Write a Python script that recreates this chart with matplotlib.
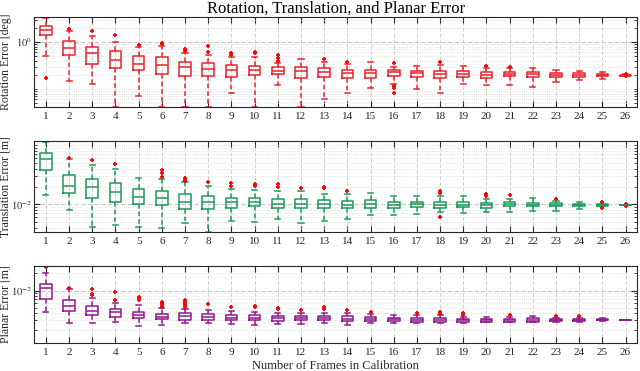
import numpy as np
import matplotlib
matplotlib.use("Agg")
import matplotlib.pyplot as plt
from matplotlib.ticker import LogLocator, NullFormatter, FixedLocator

plt.rcParams['font.family'] = ['Liberation Serif', 'DejaVu Serif']
plt.rcParams['mathtext.fontset'] = 'stix'

frames = list(range(1, 27))

# Rotation error [deg]
rot_whislo = [0.51, 0.150, 0.126, 0.042, 0.071, 0.042, 0.042, 0.042, 0.084, 0.042, 0.122, 0.042, 0.060,
              0.081, 0.107, 0.128, 0.098, 0.081, 0.128, 0.122, 0.122, 0.109, 0.143, 0.155, 0.166, 0.192]
rot_q1 = [1.39, 0.52, 0.34, 0.28, 0.254, 0.209, 0.189, 0.192, 0.18, 0.195, 0.209, 0.174, 0.177,
          0.174, 0.169, 0.189, 0.177, 0.169, 0.177, 0.174, 0.189, 0.177, 0.177, 0.183, 0.187, 0.193]
rot_med = [1.80, 0.73, 0.59, 0.41, 0.335, 0.33, 0.29, 0.262, 0.254, 0.254, 0.245, 0.241, 0.233,
           0.216, 0.216, 0.23, 0.216, 0.209, 0.212, 0.2, 0.212, 0.205, 0.198, 0.198, 0.198, 0.198]
rot_q3 = [2.19, 1.05, 0.79, 0.64, 0.50, 0.47, 0.38, 0.35, 0.33, 0.313, 0.29, 0.29, 0.275,
          0.254, 0.254, 0.254, 0.241, 0.245, 0.245, 0.23, 0.233, 0.233, 0.222, 0.216, 0.212, 0.203]
rot_whishi = [3.19, 1.74, 1.36, 1.0, 0.79, 0.82, 0.59, 0.53, 0.49, 0.47, 0.36, 0.44, 0.38,
              0.34, 0.37, 0.30, 0.313, 0.324, 0.308, 0.284, 0.275, 0.275, 0.254, 0.238, 0.23, 0.205]
rot_out = [[0.169], [1.89], [1.71], [1.43], [0.88, 0.85], [0.94, 0.89], [0.70, 0.64], [0.83, 0.60],
           [0.575, 0.53], [0.60, 0.575], [0.52, 0.45, 0.39], [], [0.435], [0.375], [],
           [0.35, 0.116, 0.104, 0.081], [], [0.375], [], [0.313], [0.29], [], [], [], [], [0.209, 0.189]]

# Translation error [m]
tra_whislo = [0.0145, 0.0081, 0.0042, 0.0045, 0.0042, 0.00395, 0.0048, 0.0034, 0.0053, 0.0051, 0.0056, 0.0048, 0.0052,
              0.0056, 0.00664, 0.0065, 0.0068, 0.0074, 0.0070, 0.0074, 0.0073, 0.0076, 0.0078, 0.0083, 0.0093, 0.0097]
tra_q1 = [0.0385, 0.0157, 0.0127, 0.0109, 0.0102, 0.0098, 0.0084, 0.0084, 0.00863, 0.0092, 0.0088, 0.0086, 0.0086,
          0.0086, 0.0088, 0.0088, 0.0090, 0.0088, 0.0090, 0.0088, 0.0093, 0.0092, 0.0092, 0.0093, 0.0094, 0.0097]
tra_med = [0.059, 0.0206, 0.0193, 0.0163, 0.0134, 0.0127, 0.0109, 0.0111, 0.0109, 0.0109, 0.0103, 0.0102, 0.0102,
           0.0098, 0.0103, 0.0098, 0.0101, 0.0098, 0.0099, 0.0098, 0.0101, 0.0098, 0.0098, 0.0098, 0.0098, 0.0098]
tra_q3 = [0.0738, 0.0316, 0.0267, 0.0225, 0.0181, 0.0165, 0.0151, 0.0139, 0.0130, 0.0130, 0.0121, 0.0125, 0.0119,
          0.0115, 0.0119, 0.0111, 0.0111, 0.0109, 0.0111, 0.0107, 0.0109, 0.0106, 0.0105, 0.0103, 0.0102, 0.0099]
tra_whishi = [0.113, 0.0575, 0.0467, 0.040, 0.0278, 0.0267, 0.0238, 0.0206, 0.0181, 0.0176, 0.0165, 0.0165, 0.0149,
              0.0151, 0.0155, 0.0139, 0.0139, 0.0136, 0.0136, 0.0124, 0.0124, 0.0127, 0.0115, 0.0111, 0.0103, 0.0099]
tra_out = [[], [0.0607], [0.0567], [0.0486], [], [0.0374, 0.0338, 0.0289], [0.0278, 0.026, 0.0244], [0.0238],
           [0.0229, 0.0206], [0.022, 0.0206], [0.022, 0.0193], [0.0188], [0.020, 0.0188], [0.0169], [], [],
           [], [0.0165, 0.0155, 0.0060], [], [0.0149, 0.0139], [0.0141], [], [0.0124], [],
           [0.0111, 0.0088], [0.0102, 0.0094]]

# Planar error [m]
pla_whislo = [0.00423, 0.00268, 0.00268, 0.00275, 0.0024, 0.0025, 0.00268, 0.00268, 0.0026, 0.0025, 0.0026, 0.0026, 0.00268,
              0.0025, 0.00268, 0.00268, 0.00268, 0.00268, 0.00268, 0.00275, 0.00275, 0.00275, 0.0028, 0.00286, 0.0029, 0.00302]
pla_q1 = [0.00706, 0.00446, 0.0037, 0.0035, 0.00328, 0.00315, 0.00306, 0.00298, 0.00298, 0.00298, 0.00294, 0.00298, 0.00298,
          0.00294, 0.00294, 0.00294, 0.00286, 0.00286, 0.00286, 0.00286, 0.00286, 0.00286, 0.00294, 0.00294, 0.00298, 0.00304]
pla_med = [0.0110, 0.0054, 0.00446, 0.00418, 0.00375, 0.0035, 0.0036, 0.00341, 0.00336, 0.00336, 0.00328, 0.00328, 0.00328,
           0.00323, 0.00315, 0.00315, 0.00306, 0.00306, 0.00302, 0.00306, 0.00302, 0.00306, 0.00306, 0.00306, 0.00306, 0.00306]
pla_q3 = [0.0131, 0.00687, 0.0054, 0.00478, 0.00428, 0.0039, 0.00411, 0.0039, 0.00375, 0.00375, 0.0036, 0.0036, 0.0036,
          0.0036, 0.00341, 0.00336, 0.00328, 0.00328, 0.0032, 0.00323, 0.0032, 0.00328, 0.0032, 0.0032, 0.0032, 0.00308]
pla_whishi = [0.0207, 0.0106, 0.00736, 0.0060, 0.00561, 0.00491, 0.00471, 0.00458, 0.0044, 0.00428, 0.00411, 0.00411, 0.00411,
              0.00411, 0.0039, 0.00375, 0.00365, 0.00365, 0.0035, 0.0035, 0.0035, 0.0036, 0.00336, 0.00336, 0.00328, 0.0031]
pla_out = [[0.0264], [0.0110], [0.0106, 0.00865, 0.0082], [0.0096, 0.00687], [0.00785, 0.00736, 0.00687],
           [0.00641, 0.0060, 0.00561, 0.00524], [0.00687, 0.00641, 0.0060, 0.00561, 0.00524], [0.00585],
           [0.00512], [0.0054, 0.00512], [0.00491, 0.00471], [0.00458], [0.00512, 0.00471], [0.00458],
           [0.00428], [], [0.00401], [0.00428, 0.0039], [0.00401, 0.00375], [], [0.00375], [], [0.0036],
           [0.0036], [], []]

panels = [
    ("Rotation Error [deg]", rot_whislo, rot_q1, rot_med, rot_q3, rot_whishi, rot_out,
     (0.0414, 3.4), [1.0], [r'$10^{0}$'], '#e8232b'),
    ("Translation Error [m]", tra_whislo, tra_q1, tra_med, tra_q3, tra_whishi, tra_out,
     (0.0034, 0.118), [0.01], [r'$10^{-2}$'], '#1e9a5a'),
    ("Planar Error [m]", pla_whislo, pla_q1, pla_med, pla_q3, pla_whishi, pla_out,
     (0.0012, 0.027), [0.01], [r'$10^{-2}$'], '#8e1a8e'),
]

fig = plt.figure(figsize=(6.4, 3.71), dpi=100)
rects = [[0.0536, 0.7116, 0.942, 0.2426],
         [0.0536, 0.3747, 0.942, 0.2453],
         [0.0536, 0.0755, 0.942, 0.2075]]

for rect, (label, wlo, q1, med, q3, whi, out, ylim, yt, ytl, col) in zip(rects, panels):
    ax = fig.add_axes(rect)
    stats = []
    for i in range(len(frames)):
        stats.append(dict(whislo=wlo[i], q1=q1[i], med=med[i], q3=q3[i], whishi=whi[i],
                          fliers=out[i], label=str(frames[i])))
    ax.bxp(stats, positions=frames, widths=0.5, capwidths=0.22,
           boxprops=dict(color=col, linewidth=1.1),
           whiskerprops=dict(color=col, linewidth=1.1, linestyle=(0, (3, 2))),
           capprops=dict(color=col, linewidth=1.1),
           medianprops=dict(color=col, linewidth=1.1),
           flierprops=dict(marker='+', markeredgecolor='red', markersize=3.5, markeredgewidth=1.3,
                           linestyle='none'))
    ax.set_yscale('log')
    ax.set_ylim(*ylim)
    ax.set_xlim(0.5, 26.5)
    ax.yaxis.set_major_locator(FixedLocator(yt))
    ax.set_yticklabels(ytl)
    ax.yaxis.set_minor_locator(LogLocator(base=10, subs=np.arange(1, 10), numticks=50))
    ax.yaxis.set_minor_formatter(NullFormatter())
    ax.set_xticks(frames)
    ax.set_xticklabels([str(f) for f in frames])
    ax.tick_params(which='both', direction='in', top=True, right=True, labelsize=8,
                   colors='#262626', labelcolor='#262626')
    ax.tick_params(which='major', length=4)
    ax.tick_params(which='minor', length=2)
    ax.tick_params(axis='y', pad=1.5, labelsize=7.5)
    ax.grid(True, which='major', axis='x', linestyle=(0, (4, 2)), color='#d0d0d0', linewidth=0.7)
    ax.grid(True, which='major', axis='y', linestyle=(0, (4, 2)), color='#c8c8c8', linewidth=0.8)
    ax.grid(True, which='minor', axis='y', linestyle=(0, (1, 1.5)), color='#dcdcdc', linewidth=0.6)
    ax.set_axisbelow(True)
    for s in ax.spines.values():
        s.set_color('#262626')
        s.set_linewidth(0.8)
    ax.set_ylabel(label, fontsize=8.5, color='#262626')
    ax.yaxis.set_label_coords(-0.0375, 0.5)
    if label.startswith("Rotation"):
        ax.set_title("Rotation, Translation, and Planar Error", fontsize=12, pad=2)
    if label.startswith("Planar"):
        ax.set_xlabel("Number of Frames in Calibration", fontsize=9, color='#262626', labelpad=2)

fig.savefig("out.png", dpi=100)
